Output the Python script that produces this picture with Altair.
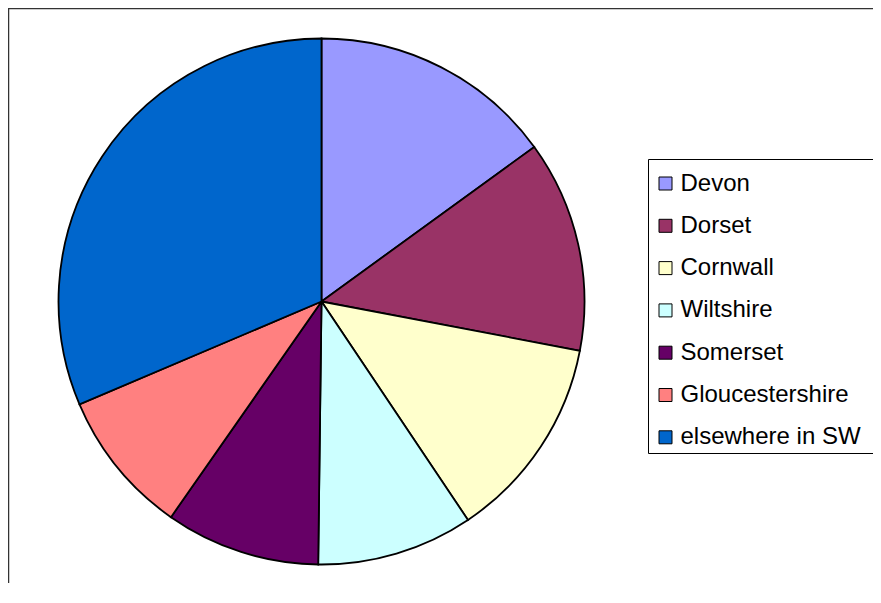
import altair as alt
import pandas as pd

regions = ["Devon", "Dorset", "Cornwall", "Wiltshire", "Somerset", "Gloucestershire", "elsewhere in SW"]
shares = [15.0, 13.0, 12.6, 9.6, 9.5, 8.9, 31.4]
colors = ["#9999FF", "#993366", "#FFFFCC", "#CCFFFF", "#660066", "#FF8080", "#0066CC"]

df = pd.DataFrame({"region": regions, "share": shares, "order": list(range(len(regions)))})
one = pd.DataFrame({"a": [0]})

pie = alt.Chart(df).mark_arc(radius=263, stroke="black", strokeWidth=1.8).encode(
    theta=alt.Theta("share:Q", stack=True),
    order=alt.Order("order:Q"),
    color=alt.Color(
        "region:N",
        sort=regions,
        scale=alt.Scale(domain=regions, range=colors),
        legend=alt.Legend(
            title=None, orient="none", legendX=645.5, legendY=163.5,
            symbolType="square", symbolSize=169, symbolStrokeColor="black",
            symbolStrokeWidth=1, symbolOpacity=1,
            labelFont="Liberation Sans", labelFontSize=24, labelColor="black",
            labelLimit=400, labelOffset=3, rowPadding=18.3, padding=0,
        ),
    ),
    x=alt.value(313.5),
    y=alt.value(293.5),
)

box = alt.Chart(one).mark_rect(fill="white", stroke="black", strokeWidth=1).encode(
    x=alt.value(640.5), x2=alt.value(900), y=alt.value(151.5), y2=alt.value(445.5)
)

top_line = alt.Chart(one).mark_rule(color="#333333", strokeWidth=1.5).encode(
    x=alt.value(0), x2=alt.value(900), y=alt.value(0.5)
)
left_line = alt.Chart(one).mark_rule(color="#333333", strokeWidth=1.5).encode(
    x=alt.value(0.5), y=alt.value(0), y2=alt.value(900)
)

chart = alt.layer(top_line, left_line, box, pie).properties(
    width=865, height=575, padding=0, autosize=alt.AutoSizeParams(type="none")
).configure_view(stroke=None)

chart.save("out.html", embed_options={"renderer": "svg", "actions": False})
